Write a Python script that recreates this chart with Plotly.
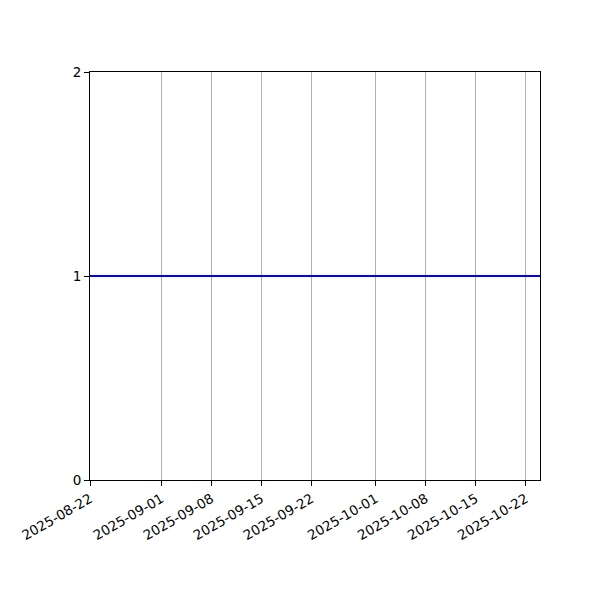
import plotly.graph_objects as go

# data
dates = ["2025-08-22", "2025-10-24"]
values = [1, 1]
tick_dates = ["2025-08-22", "2025-09-01", "2025-09-08", "2025-09-15", "2025-09-22",
              "2025-10-01", "2025-10-08", "2025-10-15", "2025-10-22"]
y_ticks = [0, 1, 2]

fig = go.Figure(
    data=[
        go.Scatter(
            x=dates,
            y=values,
            mode="lines",
            line=dict(color="#0000ff", width=2),
            showlegend=False,
        )
    ]
)

# page has an 8px body margin, so shift the plot area back by that
fig.update_layout(
    width=600,
    height=600,
    margin=dict(l=82, r=68, t=64, b=128),
    paper_bgcolor="white",
    plot_bgcolor="white",
    font=dict(family="DejaVu Sans", size=13.5, color="black"),
)
fig.update_xaxes(
    range=["2025-08-22", "2025-10-24"],
    tickvals=tick_dates,
    ticktext=tick_dates,
    tickangle=-30,
    ticks="outside",
    ticklen=5,
    tickcolor="black",
    showgrid=True,
    gridcolor="#b0b0b0",
    gridwidth=1,
    showline=True,
    linecolor="black",
    linewidth=1,
    mirror=True,
    zeroline=False,
)
fig.update_yaxes(
    range=[0, 2],
    tickvals=y_ticks,
    ticks="outside",
    ticklen=5,
    tickcolor="black",
    showgrid=False,
    showline=True,
    linecolor="black",
    linewidth=1,
    mirror=True,
    zeroline=False,
)

fig.write_html("out.html")
